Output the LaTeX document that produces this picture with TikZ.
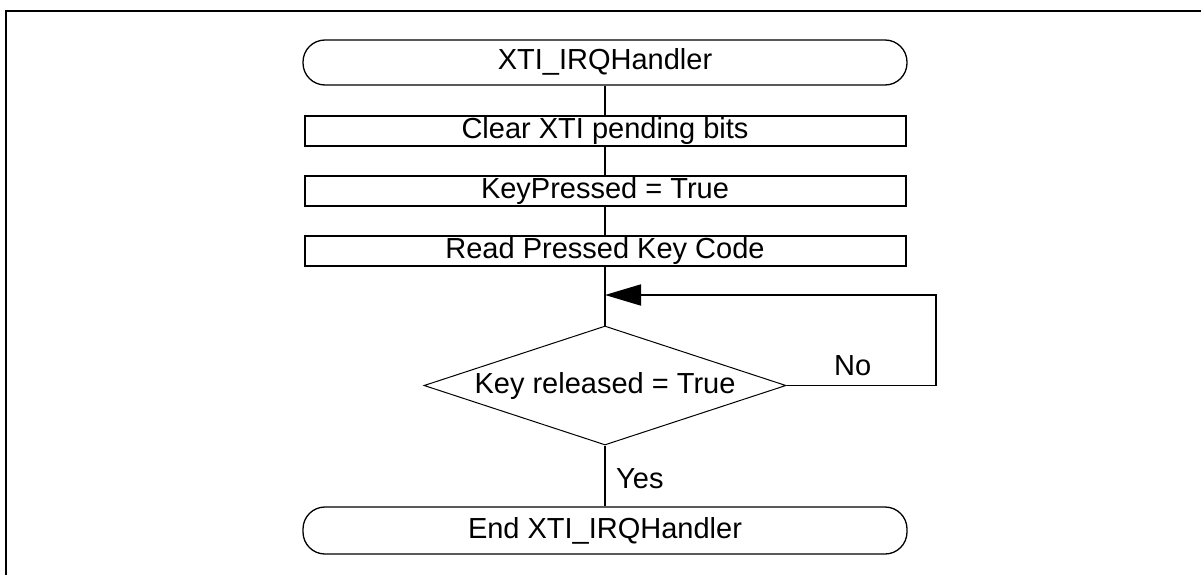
\documentclass[tikz,border=0pt]{standalone}
\usepackage{fontspec}
\setmainfont{Liberation Sans}
\usetikzlibrary{shapes.geometric,arrows.meta}
\begin{document}
\begin{tikzpicture}[x=1pt,y=-1pt,
  every node/.style={font=\fontsize{29}{32}\selectfont, inner sep=0pt},
  term/.style={draw, line width=1.3pt, rounded corners=22pt, minimum width=604pt, minimum height=45pt, text height=21pt, text depth=6pt},
  procbox/.style={draw, line width=2pt, minimum width=601pt, minimum height=30pt, text height=21pt, text depth=6pt},
  decision/.style={draw, diamond, line width=1pt, minimum width=362pt, minimum height=119pt, aspect=3, text height=21pt, text depth=6pt},
  conn/.style={line width=1.8pt},
  loopline/.style={line width=1.8pt, -{Triangle[length=36pt,width=21pt]}},
  frameline/.style={line width=2pt},
  lbl/.style={anchor=west}
  ]
\useasboundingbox (0,0) rectangle (1201,575);
\draw[frameline] (6,575) -- (6,11) -- (1201,11);

\node[term]     (start) at (605,62.5)  {XTI\_IRQHandler};
\node[procbox]  (clear) at (605,131)   {Clear XTI pending bits};
\node[procbox]  (kp)    at (605,191)   {KeyPressed = True};
\node[procbox]  (read)  at (605,250.5) {Read Pressed Key Code};
\node[decision] (dia)   at (605,385.5) {Key released = True};
\node[term, minimum height=47pt] (finish) at (605,530.5) {End XTI\_IRQHandler};

\coordinate (looptop) at (936,295);
\coordinate (merge) at (605,295);

\draw[conn] (start) -- (clear);
\draw[conn] (clear) -- (kp);
\draw[conn] (kp) -- (read);
\draw[conn] (read) -- (dia);
\draw[conn] (dia) -- (finish);
\draw[loopline] (dia.east) -| (looptop) -- (merge);

\node[lbl] (nolab)  at (834,366) {No};
\node[lbl] (yeslab) at (616,479) {Yes};
\end{tikzpicture}
\end{document}
